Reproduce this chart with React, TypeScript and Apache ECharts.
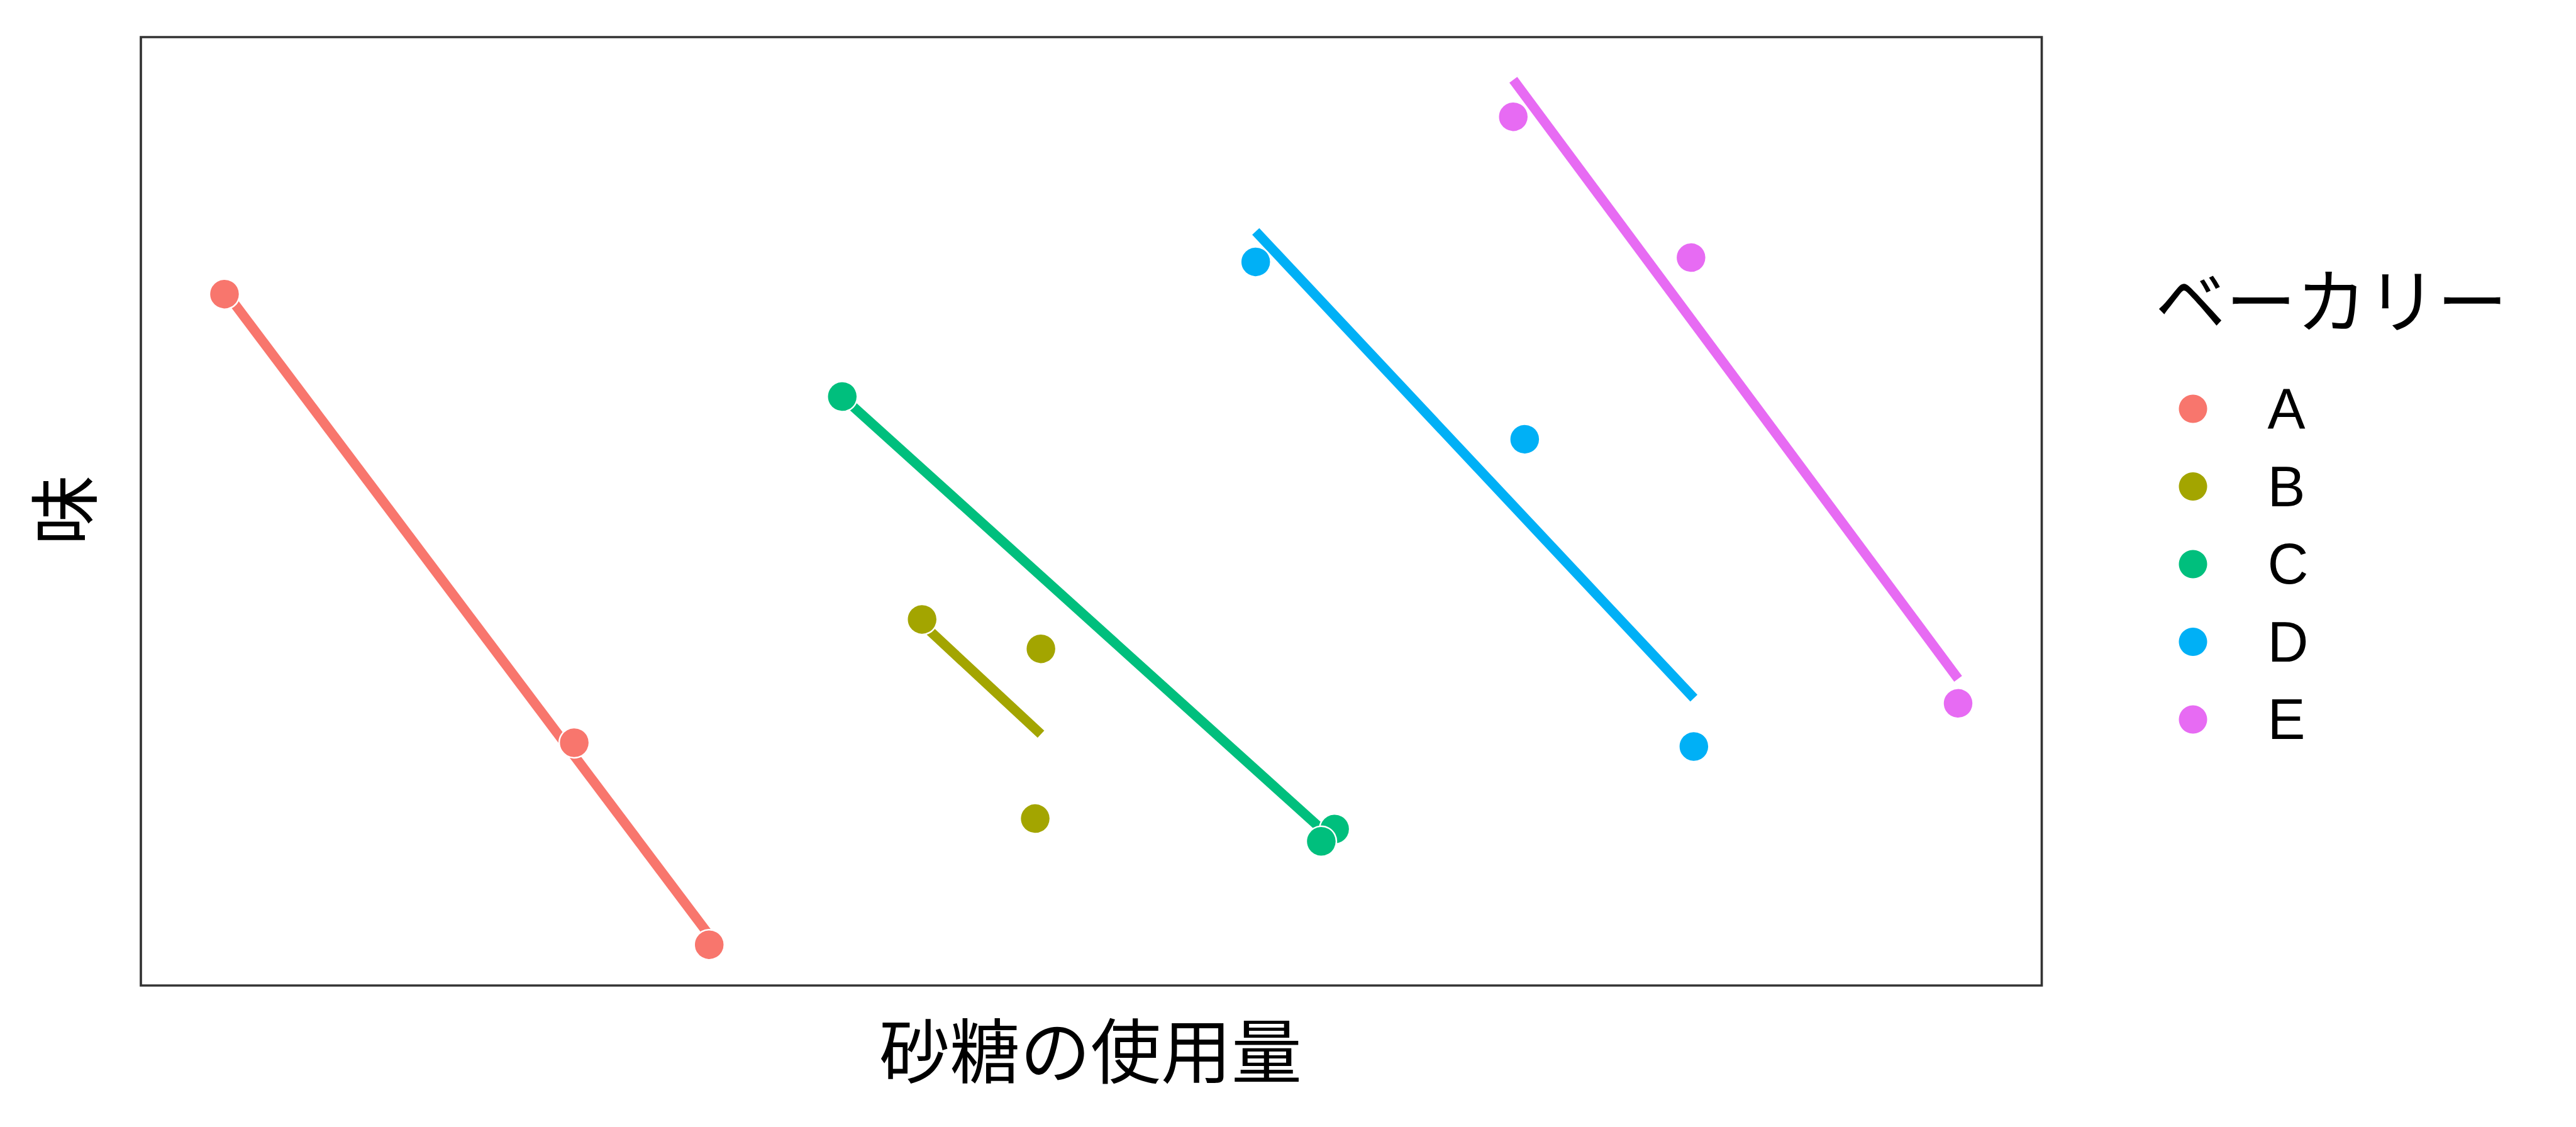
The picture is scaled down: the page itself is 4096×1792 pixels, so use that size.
import React, { useEffect, useRef } from "react";
import * as echarts from "echarts";

// Bakery groups and colours (ggplot hue palette)
const bakeries = ["A", "B", "C", "D", "E"];
const colors = ["#F8766D", "#A3A500", "#00BF7D", "#00B0F6", "#E76BF3"];

// Sugar usage (x) and taste (y) per bakery, in arbitrary units
const sugarA = [4.4, 22.8, 29.9];
const tasteA = [72.9, 25.6, 4.3];
const sugarB = [41.1, 47.35, 47.05];
const tasteB = [38.6, 35.5, 17.6];
const sugarC = [36.9, 62.8, 62.1];
const tasteC = [62.1, 16.5, 15.2];
const sugarD = [58.65, 72.8, 81.7];
const tasteD = [76.3, 57.6, 25.2];
const sugarE = [72.2, 81.55, 95.6];
const tasteE = [91.6, 76.75, 29.75];

const sugar = [sugarA, sugarB, sugarC, sugarD, sugarE];
const taste = [tasteA, tasteB, tasteC, tasteD, tasteE];

const xTitle = "砂糖の使用量";
const yTitle = "味";
const legendTitle = "ベーカリー";

function fitLine(xs: number[], ys: number[]) {
  const n = xs.length;
  const mx = xs.reduce((a, b) => a + b, 0) / n;
  const my = ys.reduce((a, b) => a + b, 0) / n;
  let sxx = 0;
  let sxy = 0;
  for (let i = 0; i < n; i++) {
    sxx += (xs[i] - mx) * (xs[i] - mx);
    sxy += (xs[i] - mx) * (ys[i] - my);
  }
  const slope = sxy / sxx;
  const x0 = Math.min(...xs);
  const x1 = Math.max(...xs);
  return [
    [x0, my + slope * (x0 - mx)],
    [x1, my + slope * (x1 - mx)],
  ];
}

export default function App() {
  const ref = useRef<HTMLDivElement>(null);

  useEffect(() => {
    if (!ref.current) return;
    const chart = echarts.init(ref.current, null, { renderer: "svg" });

    const scatterSeries = bakeries.map((name, i) => ({
      type: "scatter",
      name,
      z: 3,
      symbol: "circle",
      symbolSize: 48,
      itemStyle: { color: colors[i], borderColor: "#ffffff", borderWidth: 2.5, opacity: 1 },
      data: sugar[i].map((x, j) => [x, taste[i][j]]),
    }));

    const lineSeries = bakeries.map((name, i) => ({
      type: "line",
      name,
      z: 2,
      showSymbol: false,
      symbol: "none",
      silent: true,
      lineStyle: { color: colors[i], width: 15.5, cap: "butt" },
      itemStyle: { color: colors[i] },
      data: fitLine(sugar[i], taste[i]),
    }));

    const cjk = '"Noto Sans CJK JP", "Noto Sans CJK SC", sans-serif';

    chart.setOption({
      animation: false,
      backgroundColor: "#ffffff",
      grid: {
        left: 224,
        top: 59,
        width: 3022.5,
        height: 1508,
        show: true,
        borderColor: "#333333",
        borderWidth: 3.7,
        backgroundColor: "#ffffff",
      },
      xAxis: {
        type: "value",
        min: 0,
        max: 100,
        axisLine: { show: false },
        axisTick: { show: false },
        axisLabel: { show: false },
        splitLine: { show: false },
      },
      yAxis: {
        type: "value",
        min: 0,
        max: 100,
        axisLine: { show: false },
        axisTick: { show: false },
        axisLabel: { show: false },
        splitLine: { show: false },
      },
      legend: {
        orient: "vertical",
        left: 3459.5,
        top: 600,
        itemWidth: 45,
        itemHeight: 45,
        itemGap: 33.5,
        icon: "circle",
        data: bakeries.map((name, i) => ({
          name,
          icon: "circle",
          itemStyle: { color: colors[i], borderWidth: 0 },
        })),
        itemStyle: { borderWidth: 0 },
        textStyle: {
          fontSize: 90,
          fontFamily: '"Liberation Sans", Arial, sans-serif',
          color: "#000000",
          padding: [0, 0, 0, 91],
          lineHeight: 45,
        },
      },
      graphic: [
        {
          type: "text",
          x: 1734,
          y: 1665,
          style: {
            text: xTitle,
            fontSize: 112,
            fontFamily: cjk,
            fill: "#000000",
            align: "center",
            verticalAlign: "middle",
          },
        },
        {
          type: "text",
          x: 95.5,
          y: 811,
          rotation: Math.PI / 2,
          style: {
            text: yTitle,
            fontSize: 112,
            fontFamily: cjk,
            fill: "#000000",
            align: "center",
            verticalAlign: "middle",
          },
        },
        {
          type: "text",
          x: 3427,
          y: 472,
          style: {
            text: legendTitle,
            fontSize: 112,
            fontFamily: cjk,
            fill: "#000000",
            align: "left",
            verticalAlign: "middle",
          },
        },
      ],
      series: [...scatterSeries, ...lineSeries],
    });

    return () => chart.dispose();
  }, []);

  return (
    <div
      ref={ref}
      style={{ position: "fixed", left: 0, top: 0, width: 4096, height: 1792 }}
    />
  );
}
